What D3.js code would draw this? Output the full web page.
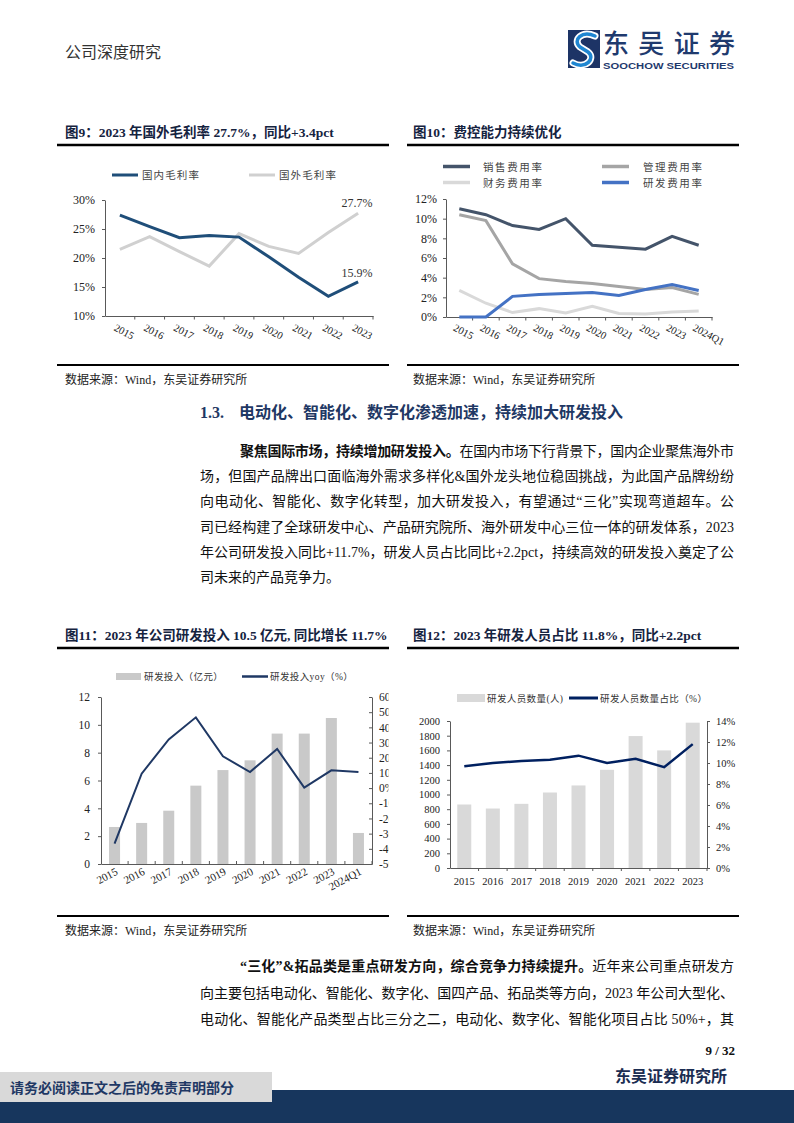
<!DOCTYPE html>
<html><head><meta charset="utf-8">
<script src="https://cdn.jsdelivr.net/npm/d3@7"></script>
<style>
html,body{margin:0;padding:0;background:#fff;}
svg{display:block;}
</style></head><body>
<svg id="page" width="794" height="1123"></svg>
<script>
// ---------------- DATA ----------------
const years9 = ["2015","2016","2017","2018","2019","2020","2021","2022","2023"];
const domesticGM = [27.4,25.4,23.5,23.9,23.6,20.2,16.7,13.4,15.9];
const foreignGM  = [21.5,23.7,21.1,18.6,24.2,22.0,20.8,24.4,27.7];
const ticks9 = [10,15,20,25,30];

const years10 = ["2015","2016","2017","2018","2019","2020","2021","2022","2023","2024Q1"];
const salesRate = [11.0,10.4,9.3,8.9,10.0,7.3,7.1,6.9,8.2,7.3];
const mgmtRate  = [10.4,9.8,5.4,3.9,3.6,3.4,3.1,2.8,3.0,2.3];
const finRate   = [2.7,1.4,0.45,0.85,0.4,1.1,0.35,0.3,0.5,0.6];
const rdRate    = [0,0,2.1,2.3,2.4,2.5,2.2,2.8,3.3,2.7];
const ticks10 = [0,2,4,6,8,10,12];

const years11 = ["2015","2016","2017","2018","2019","2020","2021","2022","2023","2024Q1"];
const rdSpend = [2.66,2.95,3.83,5.63,6.75,7.45,9.37,9.37,10.49,2.23];
const rdYoy   = [-36.6,9.5,32.1,46.6,20.9,10.6,25.8,0.3,11.7,10.6];
const ticks11L = [0,2,4,6,8,10,12];
const ticks11R = [-50,-40,-30,-20,-10,0,10,20,30,40,50,60];

const years12 = ["2015","2016","2017","2018","2019","2020","2021","2022","2023"];
const rdStaff = [864,809,873,1027,1123,1336,1795,1600,1977];
const rdStaffShare = [9.7,10.0,10.2,10.3,10.7,10.0,10.4,9.6,11.8];
const ticks12L = [0,200,400,600,800,1000,1200,1400,1600,1800,2000];
const ticks12R = [0,2,4,6,8,10,12,14];

// ---------------- HELPERS ----------------
const SERIF = '"Liberation Serif","Times New Roman","Noto Sans CJK SC",serif';
const CJK = '"Liberation Serif","Noto Sans CJK SC",sans-serif';
const svg = d3.select("#page");
const AX = "#595959";

function styleAxis(g, fs){
  g.attr("font-family", SERIF);
  g.select(".domain").attr("stroke", AX);
  g.selectAll(".tick line").attr("stroke", AX);
  g.selectAll(".tick text").attr("font-size", fs).attr("fill", "#222");
}
function hline(x1,x2,y,w){
  svg.append("line").attr("x1",x1).attr("x2",x2).attr("y1",y).attr("y2",y)
    .attr("stroke","#000").attr("stroke-width",w);
}
function txt(x,y,s,o){
  o = o||{};
  return svg.append("text").attr("x",x).attr("y",y).text(s)
    .attr("font-family",o.ff||CJK).attr("font-size",o.fs||12)
    .attr("font-weight",o.fw||"normal").attr("fill",o.fill||"#111")
    .attr("text-anchor",o.anchor||"start")
    .attr("letter-spacing",o.ls||0);
}

// ---------------- HEADER ----------------
txt(65,58,"公司深度研究",{fs:16,fill:"#333"});
const logo = svg.append("g");
logo.append("rect").attr("x",568).attr("y",30).attr("width",32).attr("height",38).attr("fill","#1d3466");
logo.append("path").attr("d","M595,36 C582,30 572,40 580,47 L588,52 C596,58 586,70 573,63")
  .attr("fill","none").attr("stroke","#fff").attr("stroke-width",7).attr("stroke-linecap","round");
logo.append("path").attr("d","M595,36 C582,30 572,40 580,47 L588,52 C596,58 586,70 573,63")
  .attr("fill","none").attr("stroke","#1f86d1").attr("stroke-width",3.5).attr("stroke-linecap","round");
txt(603,53,"东吴证券",{fs:26,fill:"#1f3a6e",ff:'"Noto Sans CJK SC",sans-serif',fw:500})
  .attr("textLength",132).attr("lengthAdjust","spacing");
txt(603,69,"SOOCHOW SECURITIES",{fs:8.5,fw:"bold",fill:"#1f3a6e",ff:'"Liberation Sans",Arial,sans-serif'})
  .attr("textLength",131).attr("lengthAdjust","spacingAndGlyphs");

// ---------------- CHART 9 ----------------
txt(65,137,"图9：2023 年国外毛利率 27.7%，同比+3.4pct",{fs:13.5,fw:"bold",fill:"#15233f"});
hline(57,389,145,2.5);
hline(57,389,365,2);
txt(65,384,"数据来源：Wind，东吴证券研究所",{fs:12,fill:"#222"});
{
  const x = d3.scaleBand().domain(years9).range([105,373]);
  const y = d3.scaleLinear().domain([10,30]).range([316,200]);
  const cx = d => x(d)+x.bandwidth()/2;
  svg.append("g").attr("transform","translate(105,0)")
    .call(d3.axisLeft(y).tickValues(ticks9).tickSize(3).tickSizeOuter(0).tickPadding(7).tickFormat(d=>d+"%"))
    .call(styleAxis,12);
  svg.append("g").attr("transform","translate(0,316)")
    .call(d3.axisBottom(x).tickSize(0).tickSizeOuter(0).tickFormat(""))
    .call(styleAxis,11);
  svg.append("g").selectAll("line").data(years9).join("line")
    .attr("x1",d=>x(d)+x.bandwidth()).attr("x2",d=>x(d)+x.bandwidth())
    .attr("y1",316).attr("y2",319.5).attr("stroke",AX);
  svg.append("g").selectAll("text").data(years9).join("text")
    .attr("transform",d=>`translate(${cx(d)-3},323) rotate(28)`)
    .attr("dy","0.75em").attr("font-family",SERIF).attr("font-size",10.5).attr("fill","#222").text(d=>d);
  const line = d3.line().x((d,i)=>cx(years9[i])).y(d=>y(d));
  svg.append("path").datum(foreignGM).attr("d",line).attr("fill","none").attr("stroke","#d0d0d0").attr("stroke-width",3);
  svg.append("path").datum(domesticGM).attr("d",line).attr("fill","none").attr("stroke","#1f4e79").attr("stroke-width",3);
  const last = years9.length-1;
  txt(cx(years9[last])-1, y(foreignGM[last])-6, foreignGM[last]+"%",{fs:12,ff:SERIF,anchor:"middle",fill:"#333"});
  txt(cx(years9[last])-1, y(domesticGM[last])-5, domesticGM[last]+"%",{fs:12,ff:SERIF,anchor:"middle",fill:"#333"});
  // legend
  svg.append("line").attr("x1",112).attr("x2",138).attr("y1",175).attr("y2",175).attr("stroke","#1f4e79").attr("stroke-width",3);
  txt(142,179,"国内毛利率",{fs:10.5,ls:1.1,fill:"#444"});
  svg.append("line").attr("x1",249).attr("x2",275).attr("y1",175).attr("y2",175).attr("stroke","#d0d0d0").attr("stroke-width",3);
  txt(279,179,"国外毛利率",{fs:10.5,ls:1.1,fill:"#444"});
}

// ---------------- CHART 10 ----------------
txt(413,137,"图10：费控能力持续优化",{fs:13.5,fw:"bold",fill:"#15233f"});
hline(407,739,145,2.5);
hline(407,739,365,2);
txt(413,384,"数据来源：Wind，东吴证券研究所",{fs:12,fill:"#222"});
{
  const x = d3.scaleBand().domain(years10).range([446,712]);
  const y = d3.scaleLinear().domain([0,12]).range([317,199]);
  const cx = d => x(d)+x.bandwidth()/2;
  svg.append("g").attr("transform","translate(446,0)")
    .call(d3.axisLeft(y).tickValues(ticks10).tickSize(3).tickSizeOuter(0).tickPadding(6).tickFormat(d=>d+"%"))
    .call(styleAxis,12);
  svg.append("g").attr("transform","translate(0,317)")
    .call(d3.axisBottom(x).tickSize(0).tickSizeOuter(0).tickFormat(""))
    .call(styleAxis,11);
  svg.append("g").selectAll("line").data(years10).join("line")
    .attr("x1",d=>x(d)+x.bandwidth()).attr("x2",d=>x(d)+x.bandwidth())
    .attr("y1",317).attr("y2",320.5).attr("stroke",AX);
  svg.append("g").selectAll("text").data(years10).join("text")
    .attr("transform",d=>`translate(${cx(d)-3},323) rotate(28)`)
    .attr("dy","0.75em").attr("font-family",SERIF).attr("font-size",10.5).attr("fill","#222").text(d=>d);
  const line = d3.line().x((d,i)=>cx(years10[i])).y(d=>y(d));
  const series = [[finRate,"#d9d9d9"],[mgmtRate,"#a5a5a5"],[rdRate,"#4472c4"],[salesRate,"#44546a"]];
  series.forEach(([arr,c])=>{
    svg.append("path").datum(arr).attr("d",line).attr("fill","none").attr("stroke",c).attr("stroke-width",3);
  });
  const leg = [["销售费用率","#44546a",443,483,166.5],["管理费用率","#a5a5a5",602,643,166.5],
               ["财务费用率","#d9d9d9",443,483,182.5],["研发费用率","#4472c4",602,643,182.5]];
  leg.forEach(([t,c,lx,tx,ly])=>{
    svg.append("line").attr("x1",lx).attr("x2",lx+27).attr("y1",ly).attr("y2",ly).attr("stroke",c).attr("stroke-width",3.5);
    txt(tx,ly+4,t,{fs:10.5,ls:1.6,fill:"#444"});
  });
}

// ---------------- SECTION TEXT ----------------
txt(200,418,"1.3.",{fs:16,fw:"bold",fill:"#1f3864",ff:SERIF});
txt(239,418,"电动化、智能化、数字化渗透加速，持续加大研发投入",{fs:16,fw:"bold",fill:"#1f3864"});

function paraLine(x0,x1,y,segs,justify){
  const t = svg.append("text").attr("x",x0).attr("y",y).attr("font-family",CJK).attr("font-size",14).attr("fill","#111");
  segs.forEach(([s,b])=>t.append("tspan").attr("font-weight",b?"bold":"normal").text(s));
  if(justify) t.attr("textLength",x1-x0).attr("lengthAdjust","spacing");
}
const p1 = [
  [[["聚焦国际市场，持续增加研发投入。",1],["在国内市场下行背景下，国内企业聚焦海外市",0]],240],
  [[["场，但国产品牌出口面临海外需求多样化&国外龙头地位稳固挑战，为此国产品牌纷纷",0]],200],
  [[["向电动化、智能化、数字化转型，加大研发投入，有望通过“三化”实现弯道超车。公",0]],200],
  [[["司已经构建了全球研发中心、产品研究院所、海外研发中心三位一体的研发体系，2023",0]],200],
  [[["年公司研发投入同比+11.7%，研发人员占比同比+2.2pct，持续高效的研发投入奠定了公",0]],200],
  [[["司未来的产品竞争力。",0]],200,true]
];
p1.forEach(([segs,x0,last],i)=>paraLine(x0,734,456+i*25.2,segs,!last));

const p2 = [
  [[["“三化”&拓品类是重点研发方向，综合竞争力持续提升。",1],["近年来公司重点研发方",0]],240],
  [[["向主要包括电动化、智能化、数字化、国四产品、拓品类等方向，2023 年公司大型化、",0]],200],
  [[["电动化、智能化产品类型占比三分之二，电动化、数字化、智能化项目占比 50%+，其",0]],200]
];
p2.forEach(([segs,x0],i)=>paraLine(x0,734,971+i*26.5,segs,true));

// ---------------- CHART 11 ----------------
txt(65,640,"图11：2023 年公司研发投入 10.5 亿元, 同比增长 11.7%",{fs:13.5,fw:"bold",fill:"#15233f"});
hline(57,389,648,2.5);
hline(57,389,916,2);
txt(65,935,"数据来源：Wind，东吴证券研究所",{fs:12,fill:"#222"});
{
  const xb = d3.scaleBand().domain(years11).range([101,372]);
  const yL = d3.scaleLinear().domain([0,12]).range([864,697]);
  const yR = d3.scaleLinear().domain([-50,60]).range([864,697]);
  const cx = d => xb(d)+xb.bandwidth()/2;
  svg.append("g").selectAll("rect").data(rdSpend).join("rect")
    .attr("x",(d,i)=>cx(years11[i])-5.5).attr("width",11)
    .attr("y",d=>yL(d)).attr("height",d=>yL(0)-yL(d)).attr("fill","#c9c9c9");
  svg.append("g").attr("transform","translate(101,0)")
    .call(d3.axisLeft(yL).tickValues(ticks11L).tickSize(3).tickSizeOuter(0).tickPadding(8))
    .call(styleAxis,11.5);
  const clip = svg.append("defs").append("clipPath").attr("id","clipR11");
  clip.append("rect").attr("x",360).attr("y",685).attr("width",28.5).attr("height",190);
  svg.append("g").attr("clip-path","url(#clipR11)").append("g").attr("transform","translate(372,0)")
    .call(d3.axisRight(yR).tickValues(ticks11R).tickSize(-3).tickSizeOuter(0).tickPadding(7).tickFormat(d=>d+"%"))
    .call(styleAxis,11.5);
  svg.append("g").attr("transform","translate(0,864)")
    .call(d3.axisBottom(xb).tickSize(0).tickSizeOuter(0).tickFormat(""))
    .call(styleAxis,11);
  svg.append("g").selectAll("line").data(years11).join("line")
    .attr("x1",d=>xb(d)+xb.bandwidth()).attr("x2",d=>xb(d)+xb.bandwidth())
    .attr("y1",864).attr("y2",861).attr("stroke",AX);
  svg.append("g").selectAll("text").data(years11).join("text")
    .attr("transform",d=>`translate(${cx(d)+4},874) rotate(-28)`)
    .attr("text-anchor","end").attr("font-family",SERIF).attr("font-size",11).attr("fill","#222").text(d=>d);
  const line = d3.line().x((d,i)=>cx(years11[i])).y(d=>yR(d));
  svg.append("path").datum(rdYoy).attr("d",line).attr("fill","none").attr("stroke","#1f3864").attr("stroke-width",2);
  svg.append("rect").attr("x",116).attr("y",673).attr("width",25).attr("height",7).attr("fill","#c9c9c9");
  txt(144,680,"研发投入（亿元）",{fs:9.5,ls:0.4,fill:"#333"});
  svg.append("line").attr("x1",242).attr("x2",268).attr("y1",676.5).attr("y2",676.5).attr("stroke","#1f3864").attr("stroke-width",2.5);
  txt(270,680,"研发投入yoy（%）",{fs:9.5,ls:0.4,fill:"#333"});
}

// ---------------- CHART 12 ----------------
txt(413,640,"图12：2023 年研发人员占比 11.8%，同比+2.2pct",{fs:13.5,fw:"bold",fill:"#15233f"});
hline(407,739,648,2.5);
hline(407,739,916,2);
txt(413,935,"数据来源：Wind，东吴证券研究所",{fs:12,fill:"#222"});
{
  const xb = d3.scaleBand().domain(years12).range([450,707]);
  const yL = d3.scaleLinear().domain([0,2000]).range([868,721]);
  const yR = d3.scaleLinear().domain([0,14]).range([868,721]);
  const cx = d => xb(d)+xb.bandwidth()/2;
  svg.append("g").selectAll("rect").data(rdStaff).join("rect")
    .attr("x",(d,i)=>cx(years12[i])-7).attr("width",14)
    .attr("y",d=>yL(d)).attr("height",d=>yL(0)-yL(d)).attr("fill","#d9d9d9");
  svg.append("g").attr("transform","translate(450,0)")
    .call(d3.axisLeft(yL).tickValues(ticks12L).tickSize(3).tickSizeOuter(0).tickPadding(7).tickFormat(d=>String(d)))
    .call(styleAxis,10.5);
  svg.append("g").attr("transform","translate(707,0)")
    .call(d3.axisRight(yR).tickValues(ticks12R).tickSize(3).tickSizeOuter(0).tickPadding(6).tickFormat(d=>d+"%"))
    .call(styleAxis,10.5);
  svg.append("g").attr("transform","translate(0,868)")
    .call(d3.axisBottom(xb).tickSize(0).tickSizeOuter(0).tickPadding(10))
    .call(styleAxis,10.5);
  svg.append("g").selectAll("line").data(years12).join("line")
    .attr("x1",d=>xb(d)+xb.bandwidth()).attr("x2",d=>xb(d)+xb.bandwidth())
    .attr("y1",868).attr("y2",871).attr("stroke",AX);
  const line = d3.line().x((d,i)=>cx(years12[i])).y(d=>yR(d));
  svg.append("path").datum(rdStaffShare).attr("d",line).attr("fill","none").attr("stroke","#002060").attr("stroke-width",2.5);
  svg.append("rect").attr("x",457).attr("y",694).attr("width",28).attr("height",8).attr("fill","#d9d9d9");
  txt(487,701.5,"研发人员数量(人)",{fs:9.5,ls:0.4,fill:"#333"});
  svg.append("line").attr("x1",569).attr("x2",598).attr("y1",698).attr("y2",698).attr("stroke","#002060").attr("stroke-width",3);
  txt(600,701.5,"研发人员数量占比（%）",{fs:9.5,ls:0.4,fill:"#333"});
}

// ---------------- FOOTER ----------------
txt(735,1055,"9 / 32",{fs:13,fw:"bold",anchor:"end",ff:SERIF,fill:"#111"});
txt(727,1082,"东吴证券研究所",{fs:16,fw:"bold",anchor:"end",fill:"#1b2d52"});
svg.append("rect").attr("x",0).attr("y",1072).attr("width",272).attr("height",30).attr("fill","#d9d9d9");
svg.append("rect").attr("x",272).attr("y",1090).attr("width",522).attr("height",33).attr("fill","#17365d");
svg.append("rect").attr("x",0).attr("y",1102).attr("width",794).attr("height",21).attr("fill","#17365d");
txt(10,1093,"请务必阅读正文之后的免责声明部分",{fs:14,fw:"bold",fill:"#1f3864"});
</script>
</body></html>
